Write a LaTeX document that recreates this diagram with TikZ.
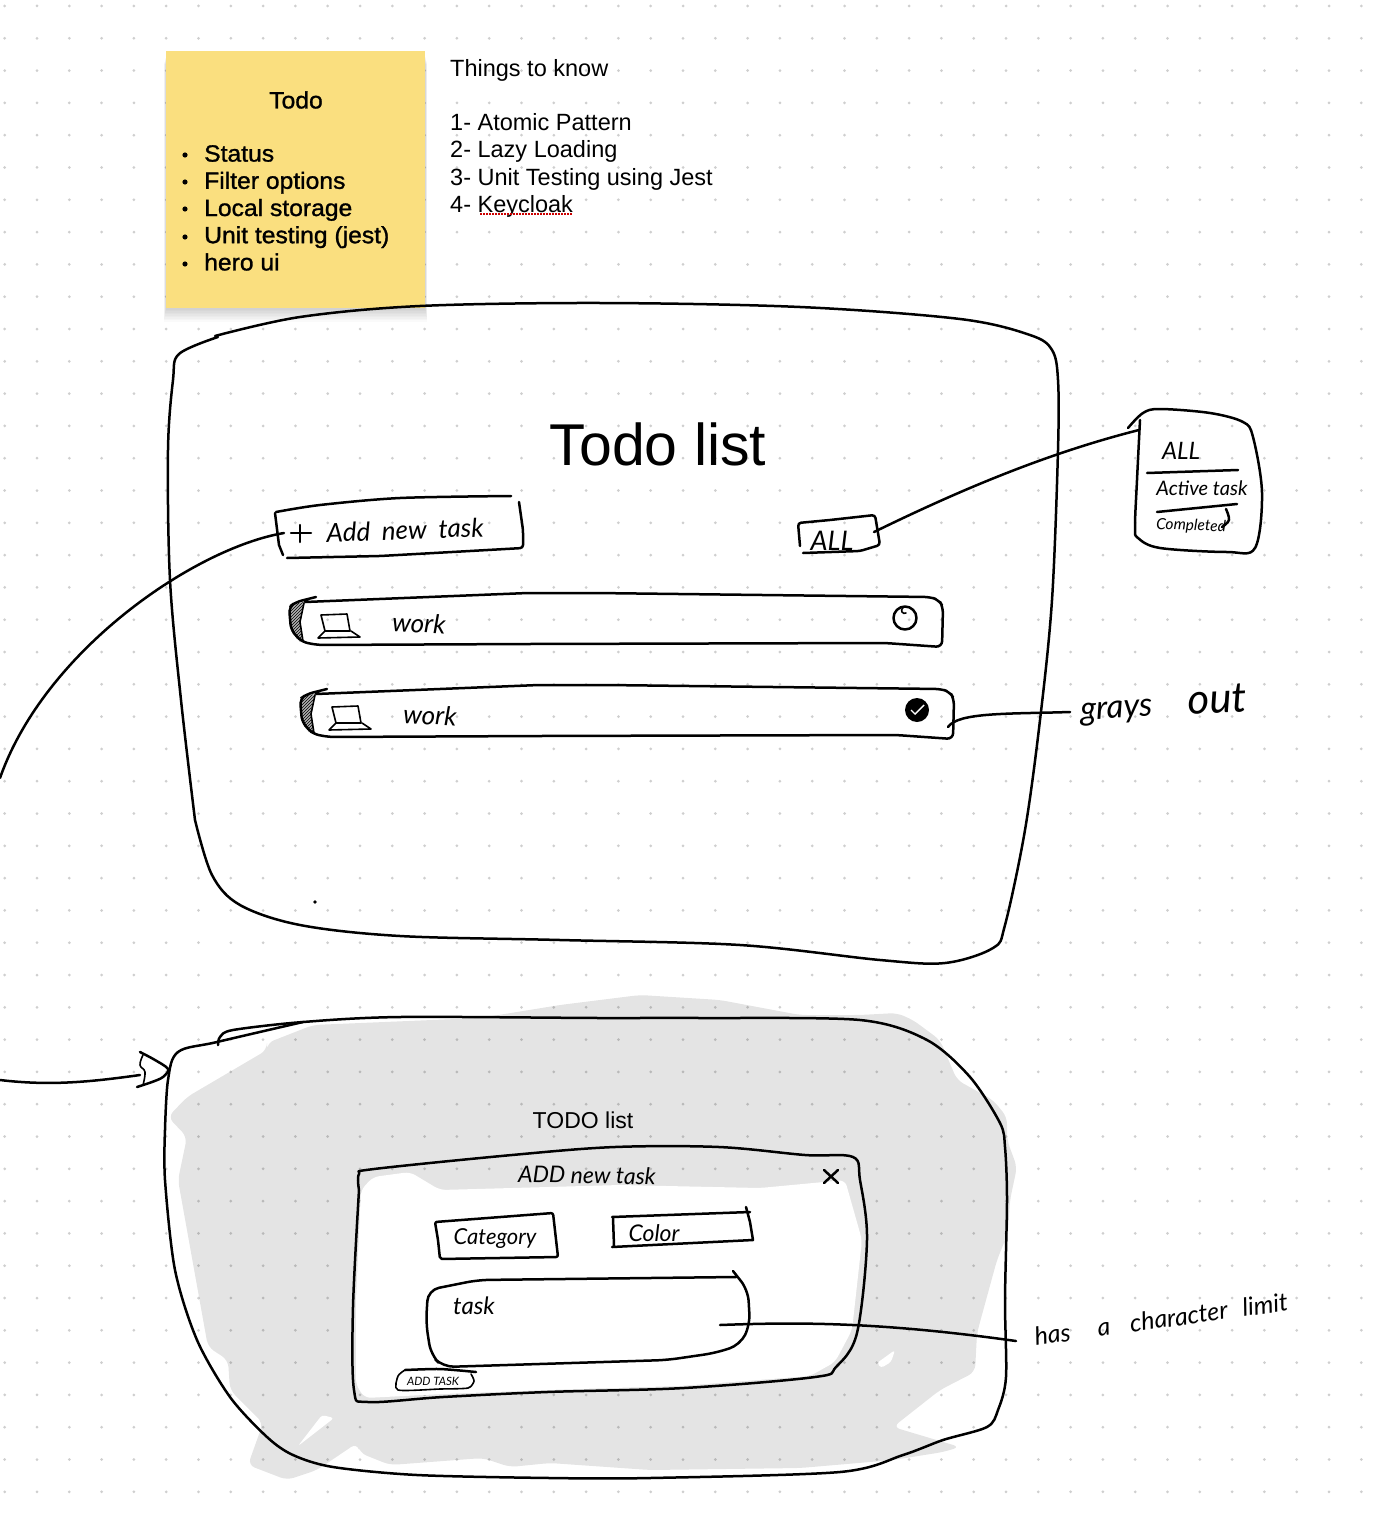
\documentclass[tikz,border=0pt]{standalone}
\usepackage{fontspec}
\setsansfont{Liberation Sans}
\newfontfamily\notefont[FakeBold=1.2,FakeStretch=1.05]{Liberation Sans}
\newfontfamily\handfont{Lato}
\usepackage{tikz}
\usetikzlibrary{patterns}
\definecolor{griddot}{HTML}{CFCFCF}
\definecolor{sticky}{HTML}{FADF7F}
\tikzset{
 sketch/.style
  = {draw=black, line width=2.5pt, line cap=round, line join=round},
 thin sketch/.style
  = {draw=black, line width=1.6pt, line cap=round, line join=round},
 hand/.style
  = {font=\handfont\itshape\fontsize{#1}{#1}\selectfont, inner sep=0pt},
 typed/.style
  = {font=\sffamily\fontsize{#1}{27.2}\selectfont, inner sep=0pt},
 smear/.style
  = {fill=black, fill opacity=0.105, rounded corners=7pt},
 gap/.style
  = {fill=white, rounded corners=3pt},
}

\begin{document}
\begin{tikzpicture}[x=1pt,y=-1pt]

\useasboundingbox (0,0) rectangle (1376,1514);
\fill[white] (0,0) rectangle (1376,1514);

% Dotted canvas
\foreach \i in {0,...,42}
  \foreach \j in {0,...,46}
    \fill[griddot] ({4.7+32.3*\i},{6+32.3*\j}) circle (1.5);

% Sticky note
\foreach \s in {1,...,9}
  \fill[black,opacity=0.02] ({166-\s*0.25},{55+\s}) rectangle ({425+\s*0.25},{308+\s*1.5});
\fill[sticky] (166,51) rectangle (425,308);
\node[font=\notefont\fontsize{23.5}{27}\selectfont,inner sep=0pt] (notetitle) at (296,100) {Todo};
\node[font=\notefont\fontsize{23.5}{27.2}\selectfont,inner sep=0pt,anchor=north west,align=left] (notelist) at (204,145)
  {Status\\Filter options\\Local storage\\Unit testing (jest)\\hero ui};
\foreach \y in {155,182,209,237,264}
  \fill (185,\y) circle (2.6);

% Things to know
\node[typed=23.5,anchor=north west,align=left] (things) at (450,59)
  {Things to know\\[27.2pt]1- Atomic Pattern\\2- Lazy Loading\\3- Unit Testing using Jest\\4- Keycloak};
\draw[red!80!black,line width=1.3pt,dash pattern=on 1.5pt off 1.5pt] (480,214) -- (572,214);

% Main screen
\draw[sketch] plot[smooth,tension=.55] coordinates {(195,820) (181,700) (170,580) (168,450) (173,380) (179,354) (218,337)};
\draw[sketch] plot[smooth,tension=.55] coordinates {(215,336) (300,317) (420,306) (600,303) (800,307) (960,319) (1030,335) (1052,350) (1058,380) (1058,450) (1052,600) (1040,720) (1025,830) (1005,925) (993,948) (945,963) (880,960) (740,945) (560,940) (400,936) (300,925) (240,905) (212,875) (195,820)};
\fill (315,902) circle (1.8);
\node[font=\sffamily\fontsize{59}{59}\selectfont,inner sep=0pt] (title) at (658,444) {Todo list};

% Add new task button
\draw[sketch] plot[smooth,tension=.5] coordinates {(276,512) (320,505) (400,498) (511,496)};
\draw[sketch,rounded corners=3pt] (519,502) -- (523,530) -- (523,548) -- (470,551) -- (380,556) -- (287,558);
\draw[sketch] (275,513) -- (279,545) -- (283,555);
\draw[sketch] (291,533) -- (311,533) (300,525) -- (300,542);
\node[hand=26,rotate=2] (addtask) at (405,530) {Add\hspace{.45em}new\hspace{.45em}task};
\coordinate (addpin) at (284,533);
\coordinate (leftout) at (0,778);

% Filter button and dropdown
\draw[sketch,rounded corners=3pt] (800,546) -- (798,523) -- (830,520) -- (875,515) -- (880,545) -- (860,551) -- (803,553);
\node[hand=27] (allbtn) at (832,541) {ALL};
\coordinate (allpin) at (874,532);
\draw[sketch] plot[smooth,tension=.55] coordinates {(1128,428) (1143,413) (1160,409) (1210,413) (1243,422) (1253,437) (1262,493) (1255,548) (1227,552) (1160,548) (1138,538) (1135,527) (1137,480) (1140,420)};
\draw[sketch] (1147,473) -- (1238,470) (1157,512) -- (1237,504);
\draw[sketch] plot[smooth,tension=.6] coordinates {(1226,509) (1229,520) (1222,527)};
\node[hand=24] (ddall) at (1181,451) {ALL};
\node[hand=20] (ddactive) at (1202,488) {Active task};
\node[hand=15.5,rotate=-2] (dddone) at (1191,526) {Completed};
\coordinate (ddpin) at (1139,430);
\draw[sketch] (allpin) .. controls (950,495) and (1040,455) .. (ddpin);

% Task rows
\foreach \n/\dx/\dy in {1/0/0,2/11/92}{
\begin{scope}[shift={(\dx,\dy)}]
  \fill[gray!60] plot[smooth,tension=.5] coordinates {(289,605) (291,630) (302,642) (300,620) (304,602)} -- cycle;
  \fill[pattern=north east lines] plot[smooth,tension=.5] coordinates {(289,605) (291,630) (302,642) (300,620) (304,602)} -- cycle;
  \draw[sketch,rounded corners=6pt] (316,597) -- (296,602) -- (289,607) -- (291,630) -- (302,642) -- (318,645) -- (528,644) -- (885,643) -- (942,647) -- (943,607) -- (939,600) -- (930,597) -- (595,593) -- (528,593) -- (305,602);
  \draw[thin sketch] (304,603) -- (300,622) -- (303,641);
  \draw[thin sketch] (321,615) -- (347,614) -- (350,631) -- (325,631) -- cycle;
  \draw[thin sketch] (325,631) -- (318,638) -- (360,637) -- (351,631);
  \node[hand=26,rotate=-3] (work\n) at (419,623) {work};
\end{scope}
}
\draw[sketch] (905,618) circle (11.5);
\draw[thin sketch] (906,613) arc (60:240:3);
\fill (917,710) circle (12);
\draw[white,line width=1.4pt] (911,710) -- (915,714) -- (924,705);

% Grays out note
\coordinate (rowpin) at (948,727);
\node[hand=33,rotate=3,anchor=west] (grays) at (1080,709) {grays\hspace{1.1em}{\fontsize{42}{42}\selectfont out}};
\coordinate (graypin) at (1070,712);
\draw[sketch] (rowpin) .. controls (958,712) and (1010,714) .. (graypin);

% Add task dialog screen
\fill[smear] (168,1117) -- (187,1097) -- (267,1050) -- (267,1043) -- (313,1025) -- (480,1018) -- (560,1005) -- (640,995) -- (720,1000) -- (800,1015) -- (860,1015) -- (897,1013) -- (913,1020) -- (940,1040) -- (957,1080) -- (993,1100) -- (1007,1117) -- (1007,1140) -- (1017,1167) -- (1010,1200) -- (1008,1233) -- (997,1260) -- (977,1333) -- (975,1372) -- (940,1390) -- (893,1427) -- (960,1447) -- (943,1452) -- (893,1460) -- (800,1468) -- (650,1470) -- (550,1463) -- (510,1467) -- (483,1458) -- (390,1465) -- (360,1453) -- (357,1443) -- (317,1470) -- (287,1480) -- (248,1465) -- (263,1423) -- (230,1390) -- (228,1360) -- (208,1347) -- (178,1180) -- (187,1137) -- cycle;
\fill[gap] (877,1363) -- (895,1350) -- (891,1362) -- (881,1368) -- cycle;
\fill[gap] (298,1446) -- (322,1415) -- (334,1418) -- cycle;
\draw[sketch] plot[smooth,tension=.55] coordinates {(165,1130) (168,1080) (178,1052) (217,1042) (303,1022)};
\draw[sketch] plot[smooth,tension=.5] coordinates {(218,1045) (220,1037) (233,1030) (303,1022) (400,1017) (600,1018) (700,1018) (860,1020) (927,1040) (970,1077) (1000,1123) (1005,1147) (1007,1200) (1005,1300) (1006,1377) (998,1410) (987,1427) (943,1440) (903,1455) (840,1472) (650,1478) (550,1478) (417,1475) (333,1467) (293,1455) (267,1437) (230,1397) (197,1340) (175,1270) (165,1180) (165,1130)};
\node[typed=23] (dimtitle) at (583,1120) {TODO list};

% Arrow into the dialog
\coordinate (dlgpin) at (140,1075);
\draw[sketch] plot[smooth,tension=.55] coordinates {(140,1052) (155,1060) (168,1069) (163,1077) (152,1082) (137,1087)};
\draw[thin sketch] plot[smooth,tension=.7] coordinates {(143,1055) (140,1065) (145,1072) (143,1085)};
\draw[sketch] (addpin) .. controls (195,548) and (45,650) .. (leftout);
\coordinate (leftin) at (0,1080);
\draw[sketch] (leftin) .. controls (50,1086) and (90,1082) .. (dlgpin);

% Dialog
\fill[white,rounded corners=6pt] (373,1177) -- (410,1172) -- (440,1190) -- (620,1185) -- (760,1188) -- (845,1180) -- (862,1240) -- (852,1330) -- (835,1362) -- (810,1376) -- (680,1386) -- (547,1390) -- (443,1394) -- (365,1398) -- (356,1385) -- (356,1300) -- (361,1190) -- cycle;
\draw[sketch] plot[smooth,tension=.55] coordinates {(359,1190) (359,1174) (374,1169) (512,1155) (615,1147) (719,1147) (805,1155) (853,1157) (860,1180) (867,1240) (857,1333) (836,1367) (815,1377) (684,1388) (547,1392) (443,1397) (368,1402) (354,1390) (353,1307) (359,1190)};
\node[hand=23,rotate=-1] (dlgtitle) at (587,1175) {ADD new task};
\draw[sketch] (824,1170) -- (838,1183) (838,1170) -- (824,1183);

% Category and color fields
\draw[sketch,rounded corners=2pt] (435,1222) -- (553,1213) -- (558,1257) -- (440,1259) -- (438,1240) -- cycle;
\node[hand=22] (catfield) at (495,1239) {Category};
\draw[sketch] (613,1218) -- (614,1246);
\draw[sketch] (612,1217) -- (750,1212) (746,1207) -- (750,1222) -- (753,1240) -- (612,1247);
\node[hand=23] (colfield) at (654,1233) {Color};

% Task field
\draw[sketch,rounded corners=11pt] (733,1271) -- (748,1290) -- (750,1325) -- (740,1345) -- (715,1353) -- (667,1360) -- (443,1367) -- (431,1355) -- (426,1323) -- (428,1290) -- (478,1280) -- (736,1277);
\node[hand=24] (taskfield) at (474,1306) {task};
\draw[sketch] plot[smooth,tension=.4] coordinates {(405,1370) (440,1369) (476,1372)};
\draw[thin sketch] plot[smooth,tension=.4] coordinates {(405,1370) (398,1376) (398,1390) (440,1389) (468,1388) (474,1381) (471,1374)};
\node[hand=11.5] (addbtn) at (433,1381) {ADD TASK};

% Character limit note
\coordinate (taskpin) at (720,1325);
\coordinate (limitpin) at (1016,1341);
\node[hand=25,rotate=8] (limit) at (1161,1319) {has\hspace{1.1em}a\hspace{.8em}character\hspace{.6em}limit};
\draw[sketch] (taskpin) .. controls (800,1322) and (880,1322) .. (limitpin);

\end{tikzpicture}
\end{document}
